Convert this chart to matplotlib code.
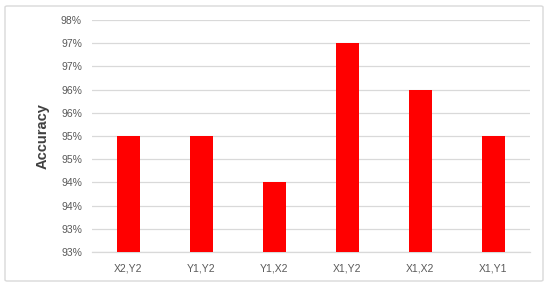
import matplotlib
matplotlib.use("Agg")
import matplotlib.pyplot as plt
from matplotlib.patches import FancyBboxPatch

categories = ["X2,Y2", "Y1,Y2", "Y1,X2", "X1,Y2", "X1,X2", "X1,Y1"]
accuracy = [95.0, 95.0, 94.0, 97.0, 96.0, 95.0]
ytick_values = [92.5, 93.0, 93.5, 94.0, 94.5, 95.0, 95.5, 96.0, 96.5, 97.0, 97.5]
ytick_labels = ["93%", "93%", "94%", "94%", "95%", "95%", "96%", "96%", "97%", "97%", "98%"]

plt.rcParams['font.family'] = ['Liberation Sans', 'DejaVu Sans']

fig = plt.figure(figsize=(5.5, 2.89), dpi=100)
fig.patch.set_facecolor("white")

border = FancyBboxPatch((5/550, 1-281/289), (543-5)/550, (281-6)/289,
                        boxstyle="round,pad=0,rounding_size=0.004",
                        transform=fig.transFigure, facecolor="none",
                        edgecolor="#d9d9d9", linewidth=1.0, zorder=0)
fig.patches.append(border)

ax = fig.add_axes([91.7/550, 1-252/289, (530-91.7)/550, (252-20)/289])
ax.set_facecolor("none")

x = list(range(len(categories)))
base = ytick_values[0]
ax.bar(x, [v - base for v in accuracy], bottom=base, width=0.31,
       color="#ff0000", zorder=3)

ax.set_xlim(-0.5, len(categories) - 0.5)
ax.set_ylim(ytick_values[0], ytick_values[-1])
ax.set_yticks(ytick_values)
ax.set_yticklabels(ytick_labels)
ax.set_xticks(x)
ax.set_xticklabels(categories)

ax.grid(axis="y", color="#d9d9d9", linewidth=0.9, zorder=0)
ax.set_axisbelow(True)
for s in ["top", "right", "left"]:
    ax.spines[s].set_visible(False)
ax.spines["bottom"].set_color("#d9d9d9")
ax.spines["bottom"].set_linewidth(0.9)

ax.tick_params(axis="both", length=0, labelsize=7.5, labelcolor="#595959")
ax.tick_params(axis="y", pad=7)
ax.tick_params(axis="x", pad=8)

ax.set_ylabel("Accuracy", fontsize=10.5, fontweight="bold", color="#404040", labelpad=8)

fig.savefig("out.png", dpi=100, facecolor="white")
